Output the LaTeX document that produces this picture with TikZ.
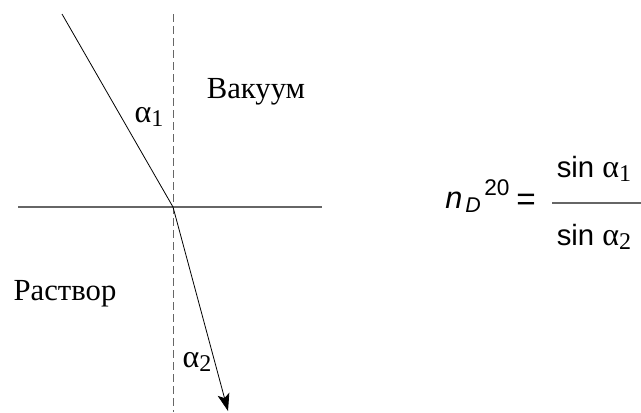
\documentclass[tikz,border=0pt]{standalone}
\usepackage{fontspec}
\setmainfont{Liberation Serif}
\newfontfamily\formfont{Liberation Sans}
\usetikzlibrary{arrows.meta}
\newcommand{\alphasub}[1]{{\rmfamily\fontsize{24}{28}\selectfont α\raisebox{-3.5pt}{\fontsize{18}{21}\selectfont #1}}}
\begin{document}
\begin{tikzpicture}[x=0.75pt, y=-0.75pt, every node/.style={align=center, inner sep=0pt},
  lbl/.style={font=\fontsize{23}{27}\selectfont, anchor=base},
  frm/.style={font=\formfont\fontsize{22}{26}\selectfont, anchor=base},
  thin line/.style={line width=0.6pt},
  grey line/.style={line width=0.9pt, black!60}]
\useasboundingbox (0,0) rectangle (641,412);
\coordinate (src) at (62,14);
\coordinate (hit) at (173,207);
\coordinate (tip) at (228,411);
\coordinate (ntop) at (173,14);
\coordinate (nbot) at (173,412);
\coordinate (sleft) at (18,207);
\coordinate (sright) at (322,207);

\draw[grey line, line width=0.7pt, dash pattern=on 6pt off 3pt] (ntop) -- (nbot);
\draw[grey line] (sleft) -- (sright);
\draw[thin line] (src) -- (hit);
\draw[thin line, -{Stealth[length=13pt, width=9pt, inset=3pt]}] (hit) -- (tip);

\node[lbl] at (149,122) (a1) {\alphasub{1}};
\node[lbl] at (197,367) (a2) {\alphasub{2}};
\node[lbl] at (256,98) (vac) {Вакуум};
\node[lbl] at (65,300) (sol) {Раствор};

% left-hand side of the formula
\node[frm, font=\formfont\itshape\fontsize{23}{27}\selectfont, anchor=base west] at (445,208) (nsym) {n};
\node[frm, font=\formfont\itshape\fontsize{16}{19}\selectfont, anchor=base west] at (465,212) (dsym) {D};
\node[frm, font=\formfont\fontsize{17}{20}\selectfont, anchor=base west] at (484,195) (tsym) {20};
\node[frm, font=\formfont\fontsize{25}{29}\selectfont, anchor=base west] at (516,210) (eq) {=};

% right-hand side
\node[frm] at (594,177) (num) {sin \alphasub{1}};
\node[frm] at (594,245) (den) {sin \alphasub{2}};
\coordinate (fleft) at (552,203);
\coordinate (fright) at (641,203);
\draw[grey line] (fleft) -- (fright);
\end{tikzpicture}
\end{document}
